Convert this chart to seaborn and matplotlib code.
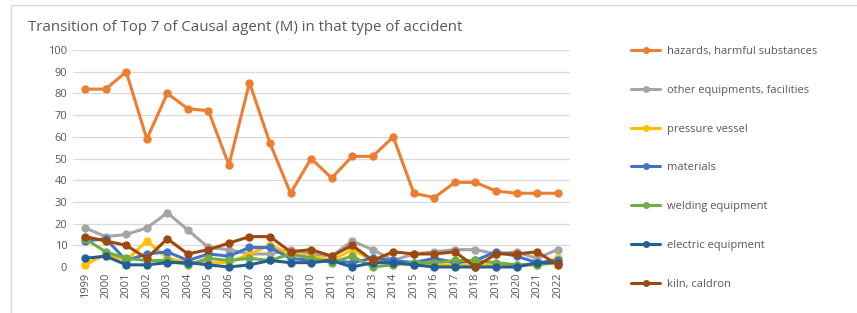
import matplotlib
matplotlib.use("Agg")
import matplotlib.pyplot as plt
from matplotlib.patches import Rectangle
import pandas as pd
import seaborn as sns

years = list(range(1999, 2023))

hazards = [82, 82, 90, 59, 80, 73, 72, 47, 85, 57, 34, 50, 41, 51, 51, 60, 34, 32, 39, 39, 35, 34, 34, 34]
other_equipment = [18, 14, 15, 18, 25, 17, 9, 8, 6, 6, 8, 6, 5, 12, 8, 3, 6, 7, 8, 8, 6, 7, 4, 8]
pressure_vessel = [1, 6, 3, 12, 4, 2, 2, 2, 6, 10, 6, 5, 3, 8, 3, 2, 1, 1, 1, 1, 1, 1, 1, 4]
materials = [12, 13, 3, 6, 7, 3, 6, 5, 9, 9, 4, 3, 3, 2, 4, 3, 2, 4, 2, 3, 7, 5, 2, 3]
welding = [13, 7, 4, 3, 3, 1, 4, 3, 4, 3, 6, 4, 2, 5, 0, 1, 2, 2, 3, 3, 2, 1, 1, 2]
electric = [4, 5, 1, 1, 2, 2, 1, 0, 1, 3, 2, 2, 3, 0, 2, 2, 1, 0, 0, 0, 0, 0, 2, 2]
kiln = [14, 12, 10, 4, 13, 6, 8, 11, 14, 14, 7, 8, 5, 10, 3, 7, 6, 6, 7, 0, 6, 6, 7, 1]

series_names = ["hazards, harmful substances", "other equipments, facilities", "pressure vessel",
                "materials", "welding equipment", "electric equipment", "kiln, caldron"]
series_values = [hazards, other_equipment, pressure_vessel, materials, welding, electric, kiln]
colors = ["#ED7D31", "#A5A5A5", "#FFC000", "#4472C4", "#70AD47", "#255E91", "#9E480E"]

rows = []
for name, vals in zip(series_names, series_values):
    for i, v in enumerate(vals):
        rows.append({"pos": i, "year": str(years[i]), "agent": name, "count": v})
df = pd.DataFrame(rows)

sns.set_style("white")
plt.rcParams["font.family"] = ["Open Sans", "DejaVu Sans"]

fig = plt.figure(figsize=(8.57, 3.13), dpi=100)
ax = fig.add_axes([0.085, 0.147, 0.58, 0.693])

sns.lineplot(data=df, x="pos", y="count", hue="agent", hue_order=series_names,
             palette=colors, marker="o", markersize=6, markeredgewidth=0,
             linewidth=2.2, ax=ax, legend=False, clip_on=False)

ax.set_xlim(-0.6, len(years) - 0.4)
ax.set_ylim(0, 100)
ax.set_yticks(range(0, 101, 10))
ax.set_xticks(range(len(years)))
ax.set_xticklabels([str(y) for y in years], rotation=90)
ax.tick_params(axis="both", labelsize=8, colors="#595959", length=0, pad=4)
ax.yaxis.grid(True, color="#D9D9D9", linewidth=0.9)
ax.set_axisbelow(True)
for s in ax.spines.values():
    s.set_visible(False)
ax.set_xlabel("")
ax.set_ylabel("")

fig.text(0.033, 0.9, "Transition of Top 7 of Causal agent (M) in that type of accident",
         fontsize=10.8, color="#595959")

handles = [plt.Line2D([0], [0], color=c, marker="o", markersize=5, markeredgewidth=0, linewidth=2.2)
           for c in colors]
leg = fig.legend(handles, series_names, loc="upper left", bbox_to_anchor=(0.725, 0.885),
                 frameon=False, fontsize=8, labelspacing=2.5, handlelength=2.6, handletextpad=0.6)
for t in leg.get_texts():
    t.set_color("#595959")

fig.patches.append(Rectangle((0.013, -0.01), 1.0, 0.995, transform=fig.transFigure,
                             fill=False, edgecolor="#D9D9D9", linewidth=1.0))

fig.savefig("out.png", dpi=100)
